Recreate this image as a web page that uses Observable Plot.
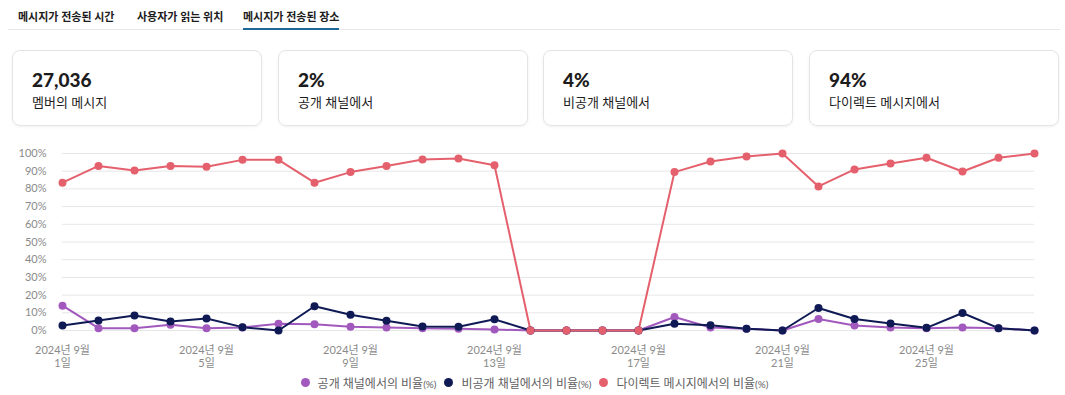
<!DOCTYPE html>
<html><head><meta charset="utf-8">
<script src="https://cdn.jsdelivr.net/npm/d3@7"></script>
<script src="https://cdn.jsdelivr.net/npm/@observablehq/plot@0.6"></script>
<style>
html,body{margin:0;padding:0;background:#fff}
body{font-family:Lato,"Noto Sans CJK KR",sans-serif;color:#1d1c1d;width:1065px;height:395px;position:relative;overflow:hidden}
.tabs{position:absolute;left:8px;top:0;width:1052px;height:29px;border-bottom:1px solid #e8e8e8}
.tab{position:absolute;top:8px;font-size:11px;font-weight:700;color:#1d1c1d;white-space:nowrap}
.underline{position:absolute;top:28px;height:2px;background:#1d6796}
.card{position:absolute;top:50px;height:76px;width:250px;border:1px solid #e4e4e4;border-radius:8px;box-shadow:0 1px 3px rgba(0,0,0,0.06);box-sizing:border-box}
.card .num{position:absolute;left:19px;top:17px;font-size:19px;font-weight:900;color:#1d1c1d}
.card .lab{position:absolute;left:19px;top:41px;font-size:13px;color:#1d1c1d}
#chart{position:absolute;left:0;top:140px}
.legend{position:absolute;top:374px;left:0;width:1065px;display:flex;justify-content:center;font-size:12px;color:#616061}
.legend .item{display:flex;align-items:center;margin:0 2px}
.legend .dot{width:9px;height:9px;border-radius:50%;display:inline-block;margin-right:8px;margin-left:4px}
.legend .pct{font-size:10px}
</style></head>
<body>
<div class="tabs" id="tabs"></div>
<div id="cards"></div>
<div id="chart"></div>
<div class="legend" id="legend"></div>
<script>
// ---- data ----
const tabLabels = ["메시지가 전송된 시간", "사용자가 읽는 위치", "메시지가 전송된 장소"];
const activeTab = 2;
const cardValues = ["27,036", "2%", "4%", "94%"];
const cardLabels = ["멤버의 메시지", "공개 채널에서", "비공개 채널에서", "다이렉트 메시지에서"];

const days = [1,2,3,4,5,6,7,8,9,10,11,12,13,14,15,16,17,18,19,20,21,22,23,24,25,26,27,28];
const publicPct  = [14,1.3,1.3,3.2,1.3,1.7,3.8,3.6,2.1,1.7,1.3,1,0.6,0,0,0,0,7.6,1.7,1,0,6.5,2.8,1.7,1.3,1.7,1.3,0];
const privatePct = [2.8,5.7,8.5,5.1,6.8,1.9,0,13.7,8.9,5.5,2.3,2.1,6.3,0,0,0,0,3.8,3,1,0,12.7,6.5,4,1.5,9.9,1.3,0];
const dmPct      = [83.5,93,90.4,93,92.5,96.4,96.4,83.5,89.5,93,96.6,97.2,93.4,0,0,0,0,89.5,95.5,98.3,100,81.4,91,94.4,97.6,89.8,97.6,100];
const seriesNames = ["공개 채널에서의 비율", "비공개 채널에서의 비율", "다이렉트 메시지에서의 비율"];
const seriesColors = ["#a259bd", "#0f1a55", "#e5606d"];
const tickDays = [1,5,9,13,17,21,25];
const yTicks = [0,10,20,30,40,50,60,70,80,90,100];

// ---- tabs ----
const tabLeft = [10, 129, 235];
const tabsEl = document.getElementById("tabs");
let act = null;
tabLabels.forEach((t,i)=>{
  const d=document.createElement("div"); d.className="tab"; d.textContent=t; d.style.left=tabLeft[i]+"px"; tabsEl.appendChild(d);
  if(i===activeTab) act = d;
});
const ul=document.createElement("div"); ul.className="underline";
ul.style.left=(tabLeft[activeTab])+"px"; ul.style.width=act.getBoundingClientRect().width+"px"; tabsEl.appendChild(ul);

// ---- cards ----
const cardLeft=[12,278,543,809];
const cardsEl=document.getElementById("cards");
cardValues.forEach((v,i)=>{
  const c=document.createElement("div"); c.className="card"; c.style.left=cardLeft[i]+"px";
  c.innerHTML=`<div class="num">${v}</div><div class="lab">${cardLabels[i]}</div>`;
  cardsEl.appendChild(c);
});

// ---- chart ----
const date = d => new Date(Date.UTC(2024,8,d));
const rows = [];
const seriesVals=[publicPct, privatePct, dmPct];
seriesVals.forEach((arr,s)=>arr.forEach((v,i)=>rows.push({series:seriesNames[s], date:date(days[i]), value:v})));
const xFmt = d=>`2024년 9월\n${d.getUTCDate()}일`;

const chart = Plot.plot({
  width:1065, height:232,
  marginLeft:62, marginRight:31, marginTop:13, marginBottom:42,
  style:{fontFamily:'Lato,"Noto Sans CJK KR",sans-serif', fontSize:"11px", color:"#8a8a8a", background:"#fff"},
  x:{type:"utc", domain:[date(1), date(28)], label:null},
  y:{domain:[0,100], label:null},
  color:{domain:seriesNames, range:seriesColors},
  marks:[
    Plot.gridY(yTicks, {stroke:"#e6e6e6", strokeOpacity:1, strokeWidth:1}),
    Plot.axisY({ticks:yTicks, tickFormat:d=>d+"%", tickSize:0, tickPadding:16, fill:"#8a8a8a", label:null}),
    Plot.axisX({ticks:tickDays.map(date), tickFormat:xFmt, tickSize:0, tickPadding:14, fill:"#8a8a8a", label:null, lineHeight:1.2}),
    Plot.line(rows, {x:"date", y:"value", z:"series", stroke:"series", strokeWidth:2, curve:"linear"}),
    Plot.dot(rows, {x:"date", y:"value", fill:"series", r:4, stroke:null})
  ]
});
document.getElementById("chart").appendChild(chart);

// ---- legend ----
const lg=document.getElementById("legend");
seriesNames.forEach((n,i)=>{
  const it=document.createElement("div"); it.className="item";
  it.innerHTML=`<span class="dot" style="background:${seriesColors[i]}"></span><span>${n}<span class="pct">(%)</span></span>`;
  lg.appendChild(it);
});
</script>
</body></html>
